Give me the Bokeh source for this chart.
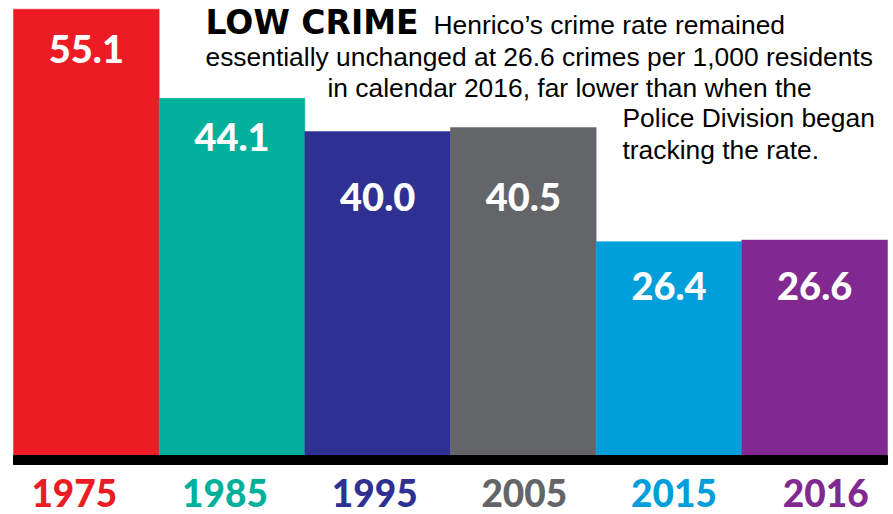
from bokeh.plotting import figure
from bokeh.models import ColumnDataSource, Label, Range1d
from bokeh.core.properties import value
from bokeh.embed import file_html
from bokeh.resources import INLINE

# ---- data ----
years = ["1975", "1985", "1995", "2005", "2015", "2016"]
rates = [55.1, 44.1, 40.0, 40.5, 26.4, 26.6]
rate_labels = ["55.1", "44.1", "40.0", "40.5", "26.4", "26.6"]
colors = ["#ED1C24", "#00B09B", "#2E3192", "#646569", "#009FDB", "#812990"]

# ---- layout (not data) ----
value_label_y = [50.2, 39.3, 31.9, 31.9, 20.9, 20.9]   # label centres in data units
year_x_shift = [-12, -7, -3, 1, 5, 11]                 # pixel nudges of year labels

W, H = 893, 514
px_x = 874 / 6.0      # pixels per bar
px_y = 8.1            # pixels per crime-rate unit
base_px = 455         # baseline distance from top

idx = list(range(len(years)))
src = ColumnDataSource(dict(
    x=idx, top=rates, label=rate_labels, color=colors, year=years,
    label_y=value_label_y, year_shift=year_x_shift,
))

p = figure(
    width=W, height=H,
    x_range=Range1d(-0.5 - 13 / px_x, len(years) - 0.5 + 6 / px_x),
    y_range=Range1d(-(H - base_px) / px_y, base_px / px_y),
    x_axis_type=None, y_axis_type=None,
    output_backend="svg", toolbar_location=None,
    min_border=0, outline_line_color=None,
    background_fill_color="white", border_fill_color="white",
)
p.grid.visible = False

p.vbar(x="x", top="top", bottom=0, width=1.0, fill_color="color",
       line_color="color", line_width=0.5, source=src)

# black baseline band
p.quad(left=-0.5, right=len(years) - 0.5, top=0, bottom=-9 / px_y,
       fill_color="black", line_color="black")

# value labels
p.text(x="x", y="label_y", text="label", source=src,
       text_color="white", text_font=value("Lato Black"), text_font_style="bold",
       text_font_size="38px", text_align="center", text_baseline="middle")

# year labels
p.text(x="x", y=-(492 - base_px) / px_y, x_offset="year_shift", text="year",
       source=src, text_color="color", text_font=value("Lato Black"),
       text_font_style="bold", text_font_size="37px", text_align="center",
       text_baseline="middle")

# title + description
def add_label(txt, x, mid, font, size, style="normal"):
    p.add_layout(Label(x=x, y=H - mid, x_units="screen", y_units="screen",
                       text=txt, text_font=font, text_font_size=size,
                       text_font_style=style, text_color="black",
                       text_baseline="middle", text_align="left"))

add_label("LOW CRIME", 205, 22, "DejaVu Sans", "33px", "bold")
body_font = "Liberation Sans"
body_size = "26.4px"
add_label("Henrico\u2019s crime rate remained", 433, 24, body_font, body_size)
add_label("essentially unchanged at 26.6 crimes per 1,000 residents", 205, 56, body_font, body_size)
add_label("in calendar 2016, far lower than when the", 327, 87, body_font, body_size)
add_label("Police Division began", 622, 117, body_font, body_size)
add_label("tracking the rate.", 622, 149, body_font, body_size)

open("out.html", "w").write(file_html(p, INLINE))
